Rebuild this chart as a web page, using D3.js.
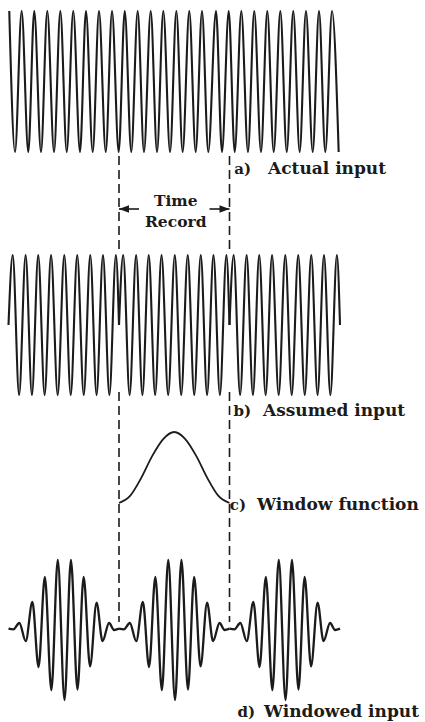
<!DOCTYPE html>
<html>
<head>
<meta charset="utf-8">
<script src="https://cdn.jsdelivr.net/npm/d3@7"></script>
<style>
body { margin: 0; background: #fff; }
svg { display: block; }
.label { font-family: "DejaVu Serif", serif; font-weight: bold; fill: #1b1b1b; }
</style>
</head>
<body>
<svg id="chart" width="425" height="722"></svg>
<script>
// time in ms, the time record runs from 0 to 10

// a) actual input, extrema
var actualPeaks = [-9.93, -8.81, -7.67, -6.49, -5.31, -4.14, -2.99, -1.81, -0.63, 0.52, 1.69, 2.87, 4.01,
    5.19, 6.36, 7.51, 8.78, 9.93, 11.07, 12.24, 13.42, 14.60, 15.77, 16.92, 18.10, 19.28];
var actualTroughs = [-9.41, -8.21, -7.06, -5.88, -4.73, -3.53, -2.38, -1.20, -0.03, 1.11, 2.26, 3.44, 4.62,
    5.76, 6.94, 8.08, 9.32, 10.47, 11.67, 12.85, 14.00, 15.18, 16.35, 17.53, 18.67, 19.88];

// b) one time record (repeated for the assumed input)
var recordTimes = [0, 0.38, 0.96, 1.55, 2.12, 2.69, 3.27, 3.85, 4.45, 5.05, 5.63, 6.22, 6.81, 7.40, 7.97, 8.55, 9.13, 9.72, 10];
var recordValues = [0, 1, -1, 1, -1, 1, -1, 1, -1, 1, -1, 1, -1, 1, -1, 1, -1, 1, 0];

// c) window function
var windowTimes = [0, 1, 2, 3, 4, 5, 6, 7, 8, 9, 10];
var windowValues = [0, 0.1, 0.35, 0.66, 0.9, 1, 0.9, 0.66, 0.35, 0.1, 0];

// d) one windowed record
var windowedTimes = [0, 0.45, 0.98, 1.56, 2.16, 2.72, 3.29, 3.88, 4.46, 5.07, 5.65, 6.24, 6.80, 7.38, 7.97, 8.51, 9.10, 9.55, 10];
var windowedValues = [0.02, 0.01, 0.10, -0.16, 0.40, -0.53, 0.76, -0.86, 1.0, -1.0, 1.0, -0.85, 0.76, -0.52, 0.39, -0.16, 0.10, 0.0, 0.02];

var recordStarts = [-10, 0, 10];
var recordEdges = [0, 10];
var panelTags = ["a)", "b)", "c)", "d)"];
var panelNames = ["Actual input", "Assumed input", "Window function", "Windowed input"];
var recordWords = ["Time", "Record"];

var svg = d3.select("#chart");

var x = d3.scaleLinear().domain([-10, 20]).range([8.5, 340]);
var ya = d3.scaleLinear().domain([-1, 1]).range([152, 11]);
var yb = d3.scaleLinear().domain([-1, 1]).range([395, 255]);
var yc = d3.scaleLinear().domain([0, 1]).range([503, 432]);
var yd = d3.scaleLinear().domain([-1, 1]).range([700, 560]);

var ink = "#1b1b1b";

function pts(times, values, offset) {
    return times.map(function(t, i) { return {t: t + offset, v: values[i]}; });
}

function lineFor(y) {
    return d3.line()
        .x(function(d) { return x(d.t); })
        .y(function(d) { return y(d.v); })
        .curve(d3.curveMonotoneX);
}

// dashed record edges, broken where the assumed input is drawn
var dashSpans = [[156, 252], [392, 622]];
svg.append("g")
    .selectAll("line.edge")
    .data(d3.cross(recordEdges, dashSpans))
    .join("line")
    .classed("edge", true)
    .attr("x1", function(d) { return x(d[0]); })
    .attr("x2", function(d) { return x(d[0]); })
    .attr("y1", function(d) { return d[1][0]; })
    .attr("y2", function(d) { return d[1][1]; })
    .style("stroke", ink)
    .style("stroke-width", "1.6px")
    .style("stroke-dasharray", "9,5");

// a) actual input
var actual = actualPeaks.map(function(t) { return {t: t, v: 1}; })
    .concat(actualTroughs.map(function(t) { return {t: t, v: -1}; }))
    .sort(function(a, b) { return a.t - b.t; });

svg.append("path")
    .datum(actual)
    .attr("d", lineFor(ya))
    .style("fill", "none")
    .style("stroke", ink)
    .style("stroke-width", "2.1px");

// b) assumed input: the record repeated
svg.append("g")
    .selectAll("path")
    .data(recordStarts.map(function(s) { return pts(recordTimes, recordValues, s); }))
    .join("path")
    .attr("d", lineFor(yb))
    .style("fill", "none")
    .style("stroke", ink)
    .style("stroke-width", "2.1px");

// c) window
svg.append("path")
    .datum(pts(windowTimes, windowValues, 0))
    .attr("d", lineFor(yc))
    .style("fill", "none")
    .style("stroke", ink)
    .style("stroke-width", "1.8px");

// d) windowed input
svg.append("g")
    .selectAll("path")
    .data(recordStarts.map(function(s) { return pts(windowedTimes, windowedValues, s); }))
    .join("path")
    .attr("d", lineFor(yd))
    .style("fill", "none")
    .style("stroke", ink)
    .style("stroke-width", "2.3px");

// time record arrows
var arrowY = 209;
var arrows = [{tip: x(recordEdges[0]), dir: 1}, {tip: x(recordEdges[1]), dir: -1}];
var ag = svg.append("g").selectAll("g").data(arrows).join("g");
ag.append("line")
    .attr("x1", function(d) { return d.tip; })
    .attr("x2", function(d) { return d.tip + d.dir * 20; })
    .attr("y1", arrowY)
    .attr("y2", arrowY)
    .style("stroke", ink)
    .style("stroke-width", "1.6px");
ag.append("path")
    .attr("d", function(d) {
        return "M" + d.tip + "," + arrowY + "L" + (d.tip + d.dir * 10) + "," + (arrowY - 3.8) +
            "L" + (d.tip + d.dir * 10) + "," + (arrowY + 3.8) + "Z";
    })
    .style("fill", ink);

svg.append("g")
    .selectAll("text")
    .data(recordWords)
    .join("text")
    .classed("label", true)
    .attr("x", (x(recordEdges[0]) + x(recordEdges[1])) / 2 + 1.5)
    .attr("y", function(d, i) { return 206 + i * 21; })
    .attr("text-anchor", "middle")
    .style("font-size", "15.5px")
    .text(function(d) { return d; });

// panel labels: tag (right-aligned), then name
var tagEnd = [251, 251, 246, 255];
var namePos = [268, 263, 257, 264];
var labelY = [174, 416, 510, 717];
var lg = svg.append("g")
    .selectAll("g")
    .data(panelNames)
    .join("g");
lg.append("text")
    .classed("label", true)
    .attr("x", function(d, i) { return tagEnd[i]; })
    .attr("y", function(d, i) { return labelY[i]; })
    .attr("text-anchor", "end")
    .style("font-size", "15px")
    .text(function(d, i) { return panelTags[i]; });
lg.append("text")
    .classed("label", true)
    .attr("x", function(d, i) { return namePos[i]; })
    .attr("y", function(d, i) { return labelY[i]; })
    .style("font-size", "17px")
    .text(function(d) { return d; });
</script>
</body>
</html>
